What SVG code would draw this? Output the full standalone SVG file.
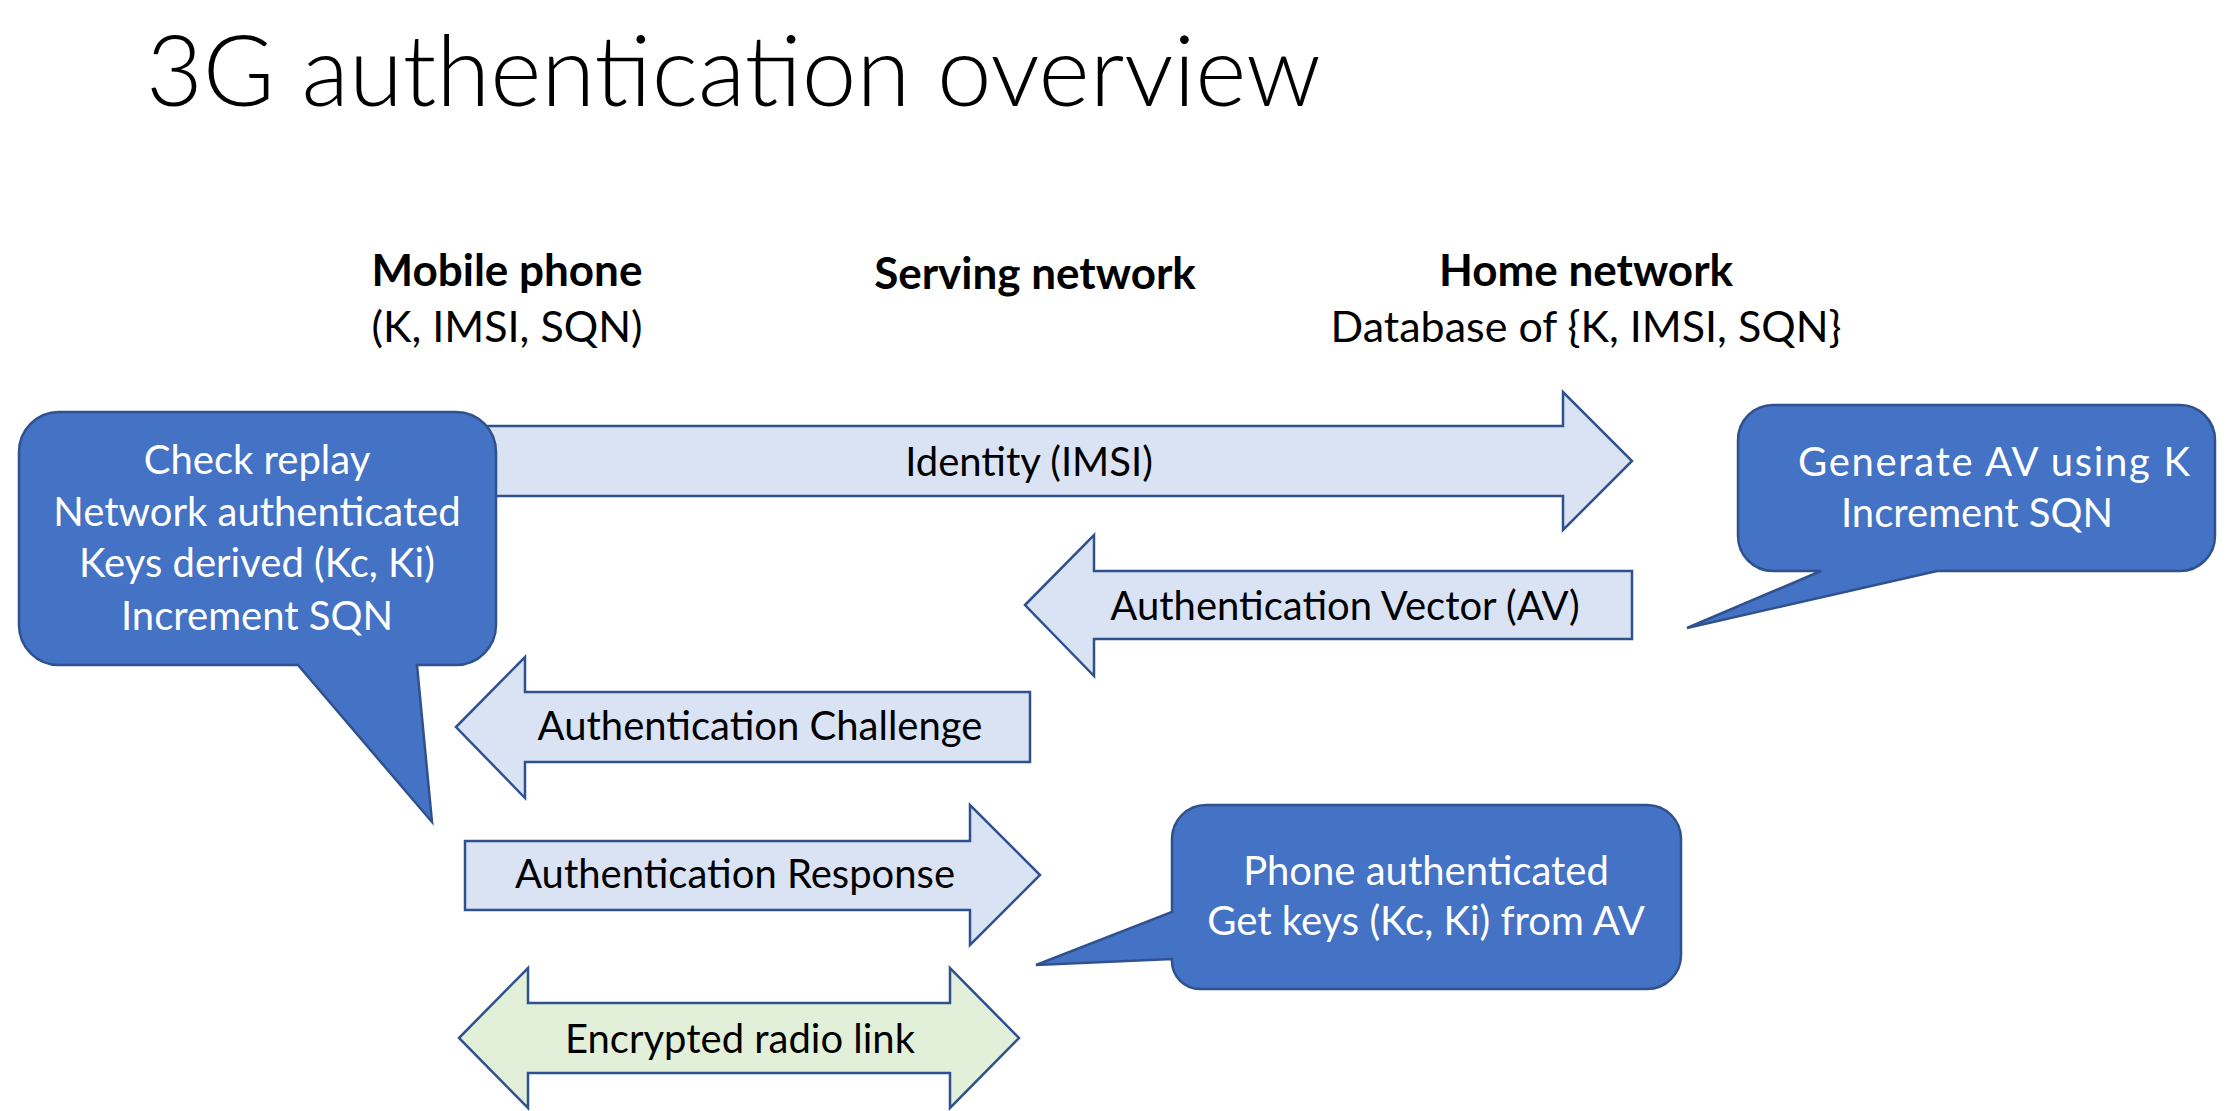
<svg xmlns="http://www.w3.org/2000/svg" width="2234" height="1111" viewBox="0 0 2234 1111">
<style>
text{font-family:Lato,"Open Sans","Liberation Sans",sans-serif;}
.t{font-size:40px;fill:#000;text-anchor:middle;}
.w{font-size:40px;fill:#fff;text-anchor:middle;}
.h{font-size:44px;fill:#000;text-anchor:middle;font-weight:bold;}
.arr{fill:#DAE3F3;stroke:#2F528F;stroke-width:2.5;stroke-linejoin:miter;}
.grn{fill:#E2F0D9;stroke:#2F528F;stroke-width:2.5;}
.bub{fill:#4472C4;stroke:#2F528F;stroke-width:2.5;}
</style>
<rect width="2234" height="1111" fill="#fff"/>
<text x="146" y="106" style="font-size:98px;font-weight:300;fill:#000">3G authentication overview</text>
<g id="headers">
<text class="h" x="507" y="286">Mobile phone</text>
<text class="t" x="507" y="342" style="font-size:43px">(K, IMSI, SQN)</text>
<text class="h" x="1035" y="289">Serving network</text>
<text class="h" x="1586" y="286">Home network</text>
<text class="t" x="1586" y="342" style="font-size:43px">Database of {K, IMSI, SQN}</text>
</g>
<g id="connectors">
<g id="identity">
<polygon class="arr" points="470,426 1563,426 1563,392 1632,461 1563,530 1563,496 470,496"/>
<text class="t" x="1029" y="476">Identity (IMSI)</text>
</g>
<g id="av">
<polygon class="arr" points="1025,605 1094,535 1094,571 1632,571 1632,639 1094,639 1094,676"/>
<text class="t" x="1345" y="620">Authentication Vector (AV)</text>
</g>
<g id="challenge">
<polygon class="arr" points="456,727 525,657 525,692 1030,692 1030,762 525,762 525,798"/>
<text class="t" x="760" y="740">Authentication Challenge</text>
</g>
<g id="response">
<polygon class="arr" points="465,841 970,841 970,805 1040,875 970,945 970,910 465,910"/>
<text class="t" x="735" y="888">Authentication Response</text>
</g>
<g id="encrypted">
<polygon class="grn" points="459,1038 528,968 528,1003 950,1003 950,968 1019,1038 950,1108 950,1073 528,1073 528,1108"/>
<text class="t" x="740" y="1053">Encrypted radio link</text>
</g>
</g>
<g id="phone-bubble">
<path class="bub" d="M 59,412 H 456 A 40 40 0 0 1 496,452 V 625 A 40 40 0 0 1 456,665 H 417 L 432,822 L 298,665 H 59 A 40 40 0 0 1 19,625 V 452 A 40 40 0 0 1 59,412 Z"/>
<text class="w" x="257" y="474">Check replay</text>
<text class="w" x="257" y="526">Network authenticated</text>
<text class="w" x="257" y="577">Keys derived (Kc, Ki)</text>
<text class="w" x="257" y="630">Increment SQN</text>
</g>
<g id="home-bubble">
<path class="bub" d="M 1773,405 H 2180 A 35 35 0 0 1 2215,440 V 536 A 35 35 0 0 1 2180,571 H 1937 L 1687,628 L 1821,571 H 1773 A 35 35 0 0 1 1738,536 V 440 A 35 35 0 0 1 1773,405 Z"/>
<text class="w" x="1994" y="476" textLength="392" lengthAdjust="spacing">Generate AV using K</text>
<text class="w" x="1977" y="527">Increment SQN</text>
</g>
<g id="serving-bubble">
<path class="bub" d="M 1206,805 H 1647 A 34 34 0 0 1 1681,839 V 955 A 34 34 0 0 1 1647,989 H 1200 A 28 28 0 0 1 1172,961 V 959 L 1036,965 L 1172,912 V 839 A 34 34 0 0 1 1206,805 Z"/>
<text class="w" x="1426" y="885">Phone authenticated</text>
<text class="w" x="1426" y="935">Get keys (Kc, Ki) from AV</text>
</g>
</svg>
